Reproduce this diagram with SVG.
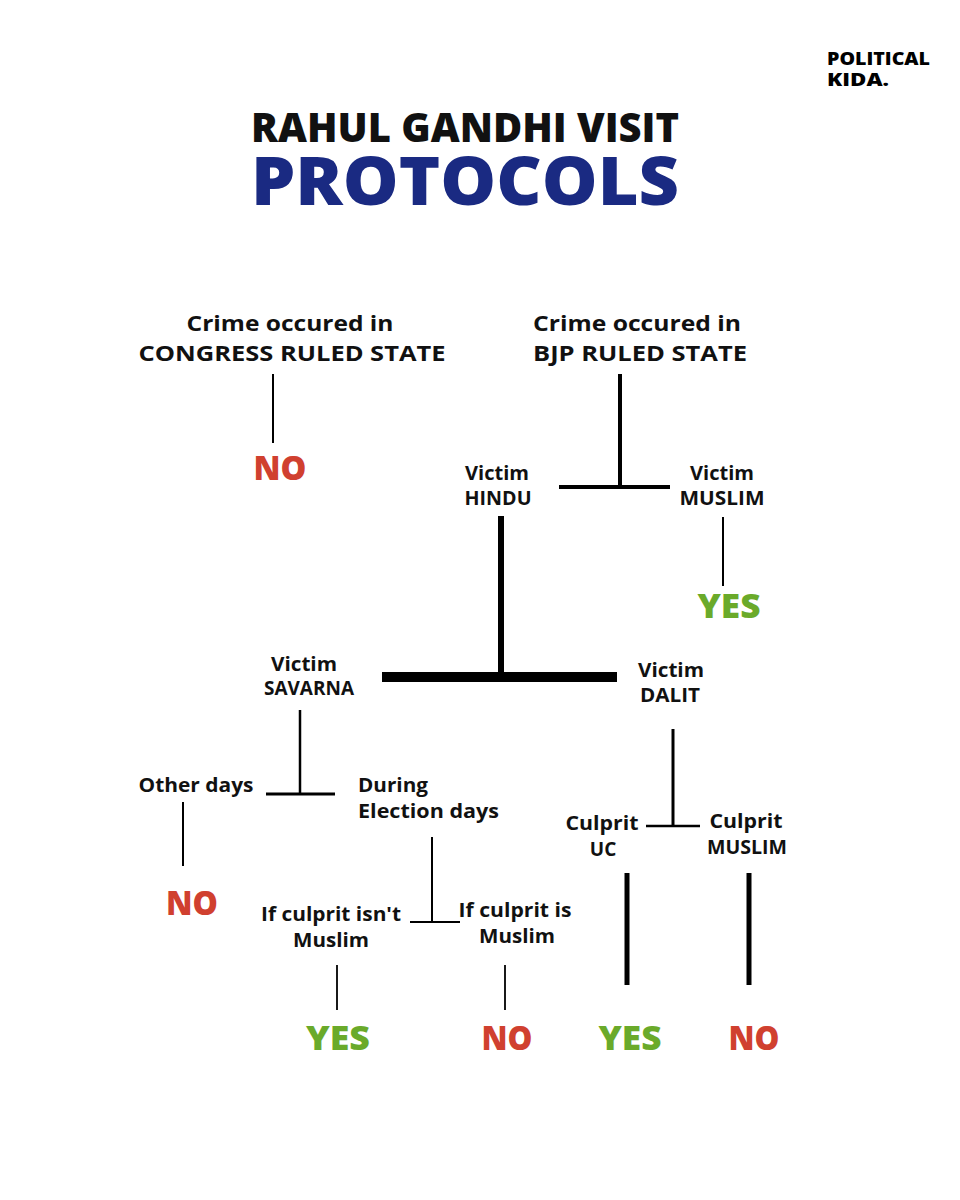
<svg xmlns="http://www.w3.org/2000/svg" width="960" height="1200" viewBox="0 0 960 1200">
<style>
text{font-family:"Open Sans","Lato","Liberation Sans",sans-serif;font-weight:700;fill:#111;text-anchor:middle}
.t{font-weight:800}
.lbl{font-size:21px}
.sm{font-size:19px}
.no{fill:#d0402f;font-size:33px;font-weight:800}
.yes{fill:#6aaa2a;font-size:33px;font-weight:800}
.c line{stroke:#000;stroke-linecap:butt}
</style>
<rect width="960" height="1200" fill="#fff"/>
<g id="logo">
<text class="t" x="827" y="65" font-size="17" style="text-anchor:start;fill:#000" textLength="103" lengthAdjust="spacingAndGlyphs">POLITICAL</text>
<text class="t" x="827" y="86" font-size="17" style="text-anchor:start;fill:#000" textLength="62" lengthAdjust="spacingAndGlyphs">KIDA.</text>
</g>
<g id="title">
<text class="t" x="465" y="142" font-size="40" textLength="428" lengthAdjust="spacingAndGlyphs">RAHUL GANDHI VISIT</text>
<text class="t" x="465" y="205" font-size="67" style="fill:#1a2a82" textLength="428" lengthAdjust="spacingAndGlyphs">PROTOCOLS</text>
</g>
<g class="c" id="connectors">
<line x1="273" y1="374" x2="273" y2="443" stroke-width="2"/>
<line x1="620" y1="374" x2="620" y2="487" stroke-width="4"/>
<line x1="559" y1="487" x2="670" y2="487" stroke-width="4"/>
<line x1="723" y1="517" x2="723" y2="586" stroke-width="2"/>
<line x1="501" y1="516" x2="501" y2="677" stroke-width="6"/>
<line x1="382" y1="677" x2="617" y2="677" stroke-width="10"/>
<line x1="300" y1="710" x2="300" y2="794" stroke-width="2.5"/>
<line x1="266" y1="794" x2="335" y2="794" stroke-width="3"/>
<line x1="183" y1="802" x2="183" y2="866" stroke-width="2"/>
<line x1="432" y1="837" x2="432" y2="922" stroke-width="2"/>
<line x1="410" y1="922" x2="460" y2="922" stroke-width="2"/>
<line x1="337" y1="965" x2="337" y2="1010" stroke-width="1.8"/>
<line x1="505" y1="965" x2="505" y2="1010" stroke-width="1.8"/>
<line x1="673" y1="729" x2="673" y2="826" stroke-width="3"/>
<line x1="646" y1="826" x2="700" y2="826" stroke-width="2.5"/>
<line x1="627" y1="873" x2="627" y2="985" stroke-width="5"/>
<line x1="749" y1="873" x2="749" y2="985" stroke-width="5"/>
</g>
<g id="congress">
<text class="lbl" x="290" y="331" textLength="207" lengthAdjust="spacingAndGlyphs">Crime occured in</text>
<text class="lbl" x="292" y="361" textLength="307" lengthAdjust="spacingAndGlyphs">CONGRESS RULED STATE</text>
</g>
<g id="no1"><text class="no" x="280" y="480" textLength="53" lengthAdjust="spacingAndGlyphs">NO</text></g>
<g id="bjp">
<text class="lbl" x="637" y="331" textLength="208" lengthAdjust="spacingAndGlyphs">Crime occured in</text>
<text class="lbl" x="640" y="361" textLength="214" lengthAdjust="spacingAndGlyphs">BJP RULED STATE</text>
</g>
<g id="hindu">
<text class="sm" x="497" y="480" textLength="64" lengthAdjust="spacingAndGlyphs">Victim</text>
<text class="sm" x="498" y="505" textLength="67" lengthAdjust="spacingAndGlyphs">HINDU</text>
</g>
<g id="muslim">
<text class="sm" x="722" y="480" textLength="64" lengthAdjust="spacingAndGlyphs">Victim</text>
<text class="sm" x="722" y="505" textLength="85" lengthAdjust="spacingAndGlyphs">MUSLIM</text>
</g>
<g id="yes1"><text class="yes" x="729" y="618" textLength="63" lengthAdjust="spacingAndGlyphs">YES</text></g>
<g id="savarna">
<text class="sm" x="304" y="671" textLength="66" lengthAdjust="spacingAndGlyphs">Victim</text>
<text class="sm" x="309" y="695" textLength="90" lengthAdjust="spacingAndGlyphs">SAVARNA</text>
</g>
<g id="dalit">
<text class="sm" x="671" y="677" textLength="66" lengthAdjust="spacingAndGlyphs">Victim</text>
<text class="sm" x="670" y="702" textLength="60" lengthAdjust="spacingAndGlyphs">DALIT</text>
</g>
<g id="other">
<text class="sm" x="196" y="792" textLength="115" lengthAdjust="spacingAndGlyphs">Other days</text>
</g>
<g id="election">
<text class="sm" x="358" y="792" style="text-anchor:start" textLength="70" lengthAdjust="spacingAndGlyphs">During</text>
<text class="sm" x="358" y="818" style="text-anchor:start" textLength="141" lengthAdjust="spacingAndGlyphs">Election days</text>
</g>
<g id="no2"><text class="no" x="192" y="915" textLength="52" lengthAdjust="spacingAndGlyphs">NO</text></g>
<g id="notmuslim">
<text class="sm" x="331" y="921" textLength="140" lengthAdjust="spacingAndGlyphs">If culprit isn't</text>
<text class="sm" x="331" y="947" textLength="76" lengthAdjust="spacingAndGlyphs">Muslim</text>
</g>
<g id="ismuslim">
<text class="sm" x="515" y="917" textLength="113" lengthAdjust="spacingAndGlyphs">If culprit is</text>
<text class="sm" x="517" y="943" textLength="76" lengthAdjust="spacingAndGlyphs">Muslim</text>
</g>
<g id="yes2"><text class="yes" x="338" y="1050" textLength="64" lengthAdjust="spacingAndGlyphs">YES</text></g>
<g id="no3"><text class="no" x="507" y="1050" textLength="51" lengthAdjust="spacingAndGlyphs">NO</text></g>
<g id="uc">
<text class="sm" x="602" y="830" textLength="73" lengthAdjust="spacingAndGlyphs">Culprit</text>
<text class="sm" x="603" y="856">UC</text>
</g>
<g id="cmuslim">
<text class="sm" x="746" y="828" textLength="73" lengthAdjust="spacingAndGlyphs">Culprit</text>
<text class="sm" x="747" y="854" textLength="80" lengthAdjust="spacingAndGlyphs">MUSLIM</text>
</g>
<g id="yes3"><text class="yes" x="630" y="1050" textLength="63" lengthAdjust="spacingAndGlyphs">YES</text></g>
<g id="no4"><text class="no" x="754" y="1050" textLength="51" lengthAdjust="spacingAndGlyphs">NO</text></g>
</svg>
